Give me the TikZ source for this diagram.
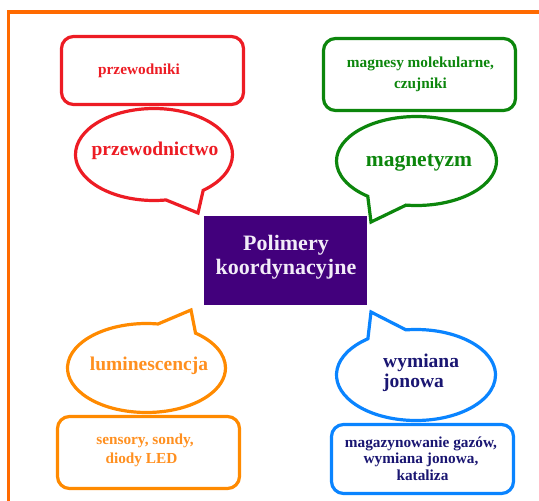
\documentclass[tikz,border=0pt]{standalone}
\usepackage{fontspec}
\setmainfont{Liberation Serif}
\usetikzlibrary{shapes.callouts}
\definecolor{cred}{HTML}{ED1C24}
\definecolor{cgreen}{HTML}{0C860C}
\definecolor{corange}{HTML}{FF8A00}
\definecolor{corangetxt}{HTML}{FF9020}
\definecolor{cblue}{HTML}{0A84FF}
\definecolor{cframe}{HTML}{FF6A00}
\definecolor{cpurple}{HTML}{42007C}
\definecolor{cnavy}{HTML}{1A1672}
\definecolor{clight}{HTML}{F2ECF8}
\begin{document}
\begin{tikzpicture}[x=1pt,y=-1pt,
  bubble/.style={ellipse callout, line width=3.2pt, fill=white, inner sep=0pt, callout pointer arc=30},
  infobox/.style={rectangle, rounded corners=12pt, line width=3.2pt, fill=white, inner sep=0pt},
  txt/.style={anchor=base, inner sep=0pt, font=\bfseries\fontsize{15.3}{18}\selectfont},
  big/.style={anchor=base, inner sep=0pt, font=\bfseries\fontsize{19.5}{22}\selectfont}]
\useasboundingbox (0,0) rectangle (539,501);
\draw[cframe, line width=3.5pt] (8.6,560) -- (8.6,12) -- (600,12);

\node[fill=cpurple, minimum width=163pt, minimum height=89pt, inner sep=0pt] (core) at (285.5,260.5) {};
\node[anchor=base, inner sep=0pt, text=clight, font=\bfseries\fontsize{22}{24}\selectfont] (coreA) at (286,250) {Polimery};
\node[anchor=base, inner sep=0pt, text=clight, font=\bfseries\fontsize{22}{24}\selectfont] (coreB) at (286,274) {koordynacyjne};

\coordinate (tipA) at (198,213);
\coordinate (tipB) at (371,222);
\coordinate (tipC) at (191,310);
\coordinate (tipD) at (371,312);

% red
\node[infobox, draw=cred, minimum width=182pt, minimum height=68pt] (rA) at (152.5,70.5) {};
\node[bubble, draw=cred, minimum width=157pt, minimum height=92pt, callout absolute pointer={(tipA)}] (bA) at (154,154.5) {};
\node[txt, text=cred] (rAt) at (139,74) {przewodniki};
\node[big, text=cred] (bAt) at (155,155) {przewodnictwo};

% green
\node[infobox, draw=cgreen, minimum width=192pt, minimum height=72pt] (rB) at (419.5,74.5) {};
\node[bubble, draw=cgreen, minimum width=160pt, minimum height=89pt, callout absolute pointer={(tipB)}] (bB) at (416.5,161) {};
\node[txt, text=cgreen] (rBt1) at (420.5,67) {magnesy molekularne,};
\node[txt, text=cgreen] (rBt2) at (420.5,88) {czujniki};
\node[big, text=cgreen, font=\bfseries\fontsize{21.5}{24}\selectfont] (bBt) at (419,166) {magnetyzm};

% orange
\node[bubble, draw=corange, minimum width=158pt, minimum height=89pt, callout absolute pointer={(tipC)}] (bC) at (146.5,368) {};
\node[infobox, draw=corange, minimum width=182pt, minimum height=72pt] (rC) at (148.5,452.5) {};
\node[big, text=corangetxt] (bCt) at (149,370.5) {luminescencja};
\node[txt, text=corangetxt] (rCt1) at (145,444) {sensory, sondy,};
\node[txt, text=corangetxt] (rCt2) at (141.5,463) {diody LED};

% blue
\node[bubble, draw=cblue, minimum width=159pt, minimum height=91pt, callout absolute pointer={(tipD)}] (bD) at (416,375) {};
\node[infobox, draw=cblue, minimum width=182pt, minimum height=69pt] (rD) at (422.5,459) {};
\node[big, text=cnavy, anchor=base west] (bDt1) at (383,367) {wymiana};
\node[big, text=cnavy, anchor=base west] (bDt2) at (383,387) {jonowa};
\node[txt, text=cnavy] (rDt1) at (421,447) {magazynowanie gazów,};
\node[txt, text=cnavy] (rDt2) at (421,463.5) {wymiana jonowa,};
\node[txt, text=cnavy] (rDt3) at (422.5,480.5) {kataliza};
\end{tikzpicture}
\end{document}
